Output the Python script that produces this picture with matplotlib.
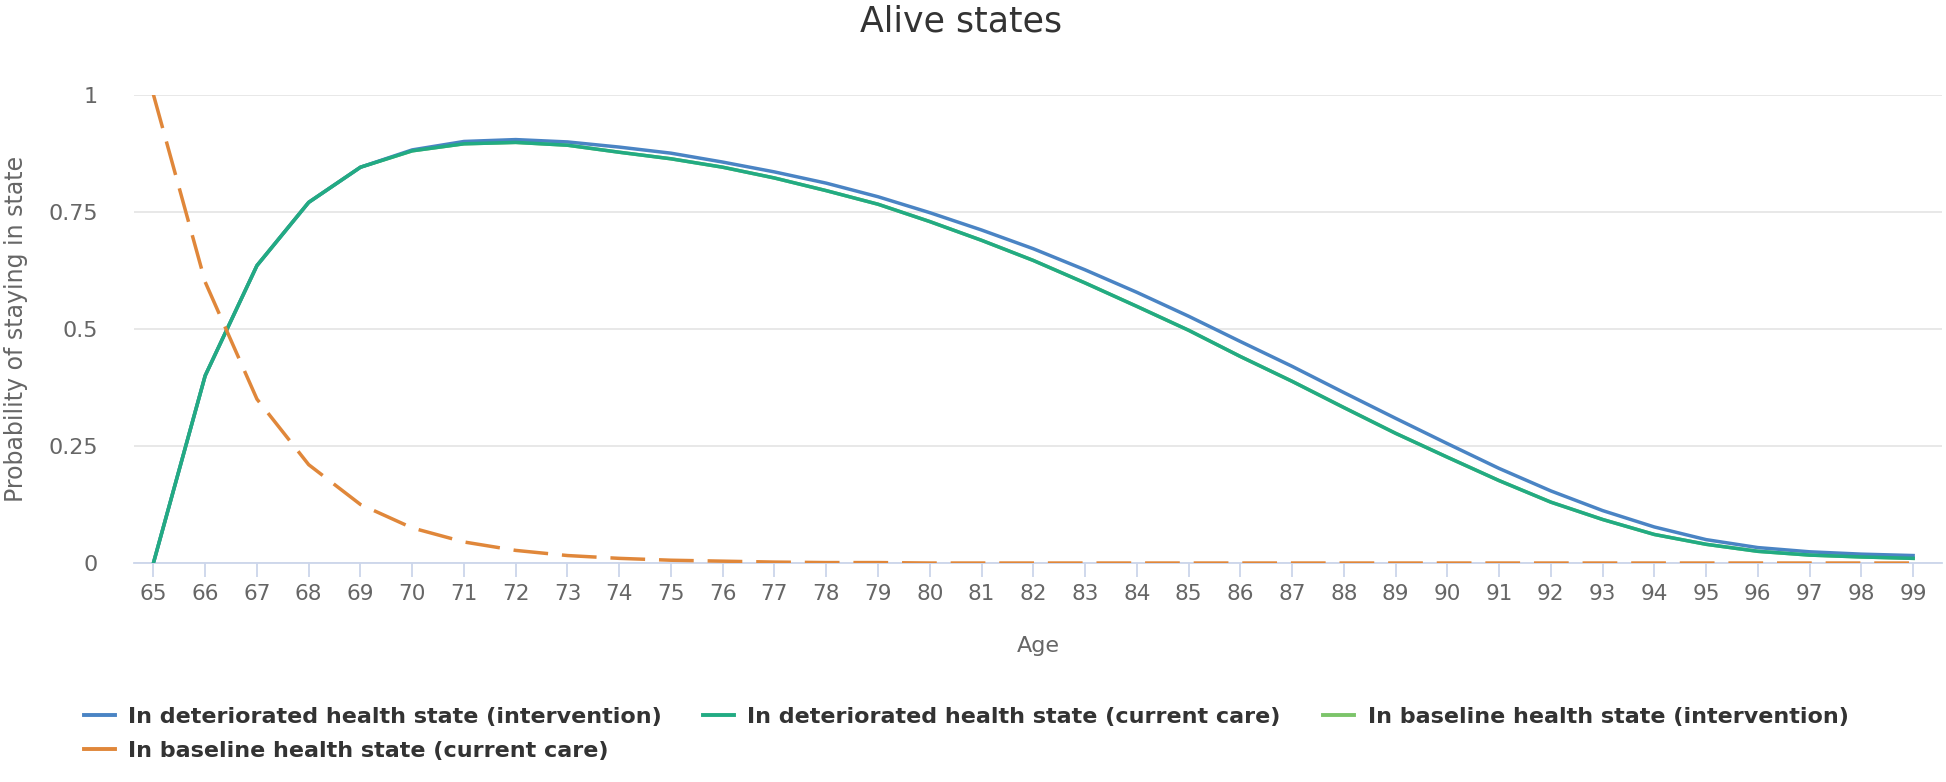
import numpy as np
import matplotlib.pyplot as plt

# ages on the x axis
ages = np.arange(65, 100)

# probability of staying in state
det_intervention = [0.0, 0.40, 0.635, 0.77, 0.845, 0.882, 0.900, 0.904, 0.899, 0.888,
                    0.875, 0.856, 0.835, 0.811, 0.782, 0.748, 0.711, 0.671, 0.626, 0.578,
                    0.527, 0.473, 0.420, 0.364, 0.309, 0.255, 0.202, 0.154, 0.112, 0.077,
                    0.050, 0.033, 0.024, 0.019, 0.016]
det_current = [0.0, 0.40, 0.635, 0.77, 0.845, 0.880, 0.895, 0.898, 0.892, 0.877,
               0.863, 0.845, 0.822, 0.795, 0.766, 0.729, 0.689, 0.646, 0.598, 0.548,
               0.497, 0.441, 0.388, 0.332, 0.277, 0.226, 0.176, 0.130, 0.093, 0.061,
               0.040, 0.025, 0.017, 0.013, 0.010]
# baseline (intervention) is not visible in the chart, it sits under the current care line
base_intervention = list(det_current)
base_current = [1.0, 0.60, 0.35, 0.21, 0.125, 0.075, 0.045, 0.027, 0.016, 0.010,
                0.006, 0.004, 0.002, 0.001, 0.001, 0.0, 0.0, 0.0, 0.0, 0.0,
                0.0, 0.0, 0.0, 0.0, 0.0, 0.0, 0.0, 0.0, 0.0, 0.0,
                0.0, 0.0, 0.0, 0.0, 0.0]

labels = ["In deteriorated health state (intervention)",
          "In deteriorated health state (current care)",
          "In baseline health state (intervention)",
          "In baseline health state (current care)"]
colors = ["#4a84c4", "#22ab83", "#7cc46a", "#e0873a"]

fig = plt.figure(figsize=(19.46, 7.82), dpi=100)
ax = fig.add_axes([0.069, 0.280, 0.929, 0.599])

lw = 2.5
l3, = ax.plot(ages, base_intervention, color=colors[2], lw=lw, label=labels[2], zorder=2)
l1, = ax.plot(ages, det_intervention, color=colors[0], lw=lw, label=labels[0], zorder=3)
l2, = ax.plot(ages, det_current, color=colors[1], lw=lw, label=labels[1], zorder=4)
l4, = ax.plot(ages, base_current, color=colors[3], lw=lw, label=labels[3], zorder=5,
              dashes=(10, 4))

ax.set_xlim(64.63, 99.56)
ax.set_ylim(0, 1)
ax.set_xticks(ages)
ax.set_yticks([0, 0.25, 0.5, 0.75, 1])
ax.set_yticklabels(["0", "0.25", "0.5", "0.75", "1"])

for s in ["top", "right", "left"]:
    ax.spines[s].set_visible(False)
ax.spines["bottom"].set_color("#ccd6eb")
ax.spines["bottom"].set_linewidth(1.3)
ax.yaxis.grid(True, color="#e6e6e6", lw=1.3)
ax.set_axisbelow(True)
ax.tick_params(axis="x", colors="#ccd6eb", length=10, width=1.3, labelcolor="#666666",
               labelsize=15.5, pad=5)
ax.tick_params(axis="y", length=0, labelcolor="#666666", labelsize=16, pad=26)

ax.set_xlabel("Age", color="#666666", fontsize=16)
ax.xaxis.set_label_coords(0.5, -0.155)
ax.set_ylabel("Probability of staying in state", color="#666666", fontsize=17)
ax.yaxis.set_label_coords(-0.0586, 0.5)
fig.text(0.494, 0.972, "Alive states", ha="center", va="center", fontsize=25, color="#333333")

# one legend per item so the rows line up like the original
handles = [l1, l2, l3, l4]
spots = [(0.043, 0.083), (0.361, 0.083), (0.680, 0.083), (0.043, 0.040)]
for h, lab, (x, y) in zip(handles, labels, spots):
    leg = fig.legend([h], [lab], loc="center left", bbox_to_anchor=(x, y),
                     frameon=False, borderpad=0, borderaxespad=0,
                     handlelength=1.4, handletextpad=0.6,
                     prop={"weight": "bold", "size": 16})
    leg.get_texts()[0].set_color("#333333")
    lh = leg.legend_handles[0]
    lh.set_linestyle("-")
    lh.set_linewidth(2.8)

plt.savefig("out.png", dpi=100)
